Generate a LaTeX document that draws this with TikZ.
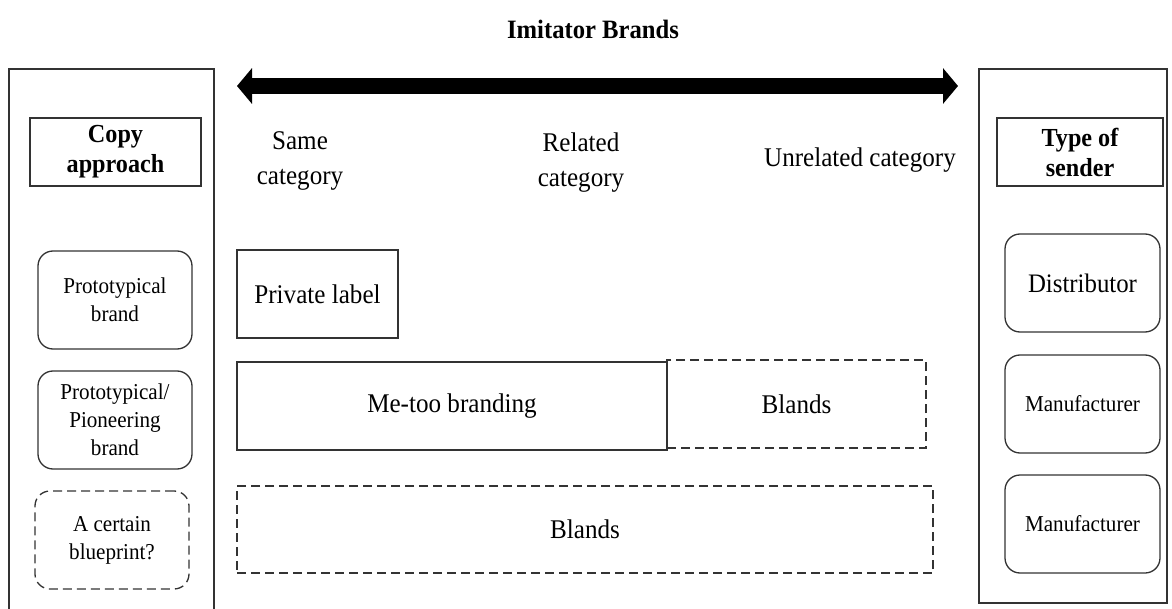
\documentclass[tikz,border=0pt]{standalone}
\usepackage{fontspec}
\setmainfont[FakeStretch=0.93]{Liberation Serif}
\usetikzlibrary{arrows.meta}
\begin{document}
\begin{tikzpicture}[x=1pt,y=-1pt,
  ln/.style={draw=black!80, line width=1.3pt},
  panel/.style={ln, anchor=north west, inner sep=0pt, outer sep=0pt},
  hdr/.style={ln, anchor=north west, inner sep=0pt, outer sep=0pt, align=center,
    font=\fontsize{26}{30}\selectfont\bfseries},
  rbox/.style={ln, rounded corners=15pt, anchor=north west, inner sep=0pt, outer sep=0pt,
    align=center, minimum width=154pt, minimum height=98pt, font=\fontsize{22.7}{28}\selectfont},
  sbox/.style={ln, anchor=north west, inner sep=0pt, outer sep=0pt, align=center,
    minimum height=88pt, font=\fontsize{27}{30}\selectfont},
  dsh/.style={dash pattern=on 9pt off 5pt},
  cat/.style={align=center, inner sep=0pt, font=\fontsize{27}{35}\selectfont},
  ttl/.style={inner sep=0pt, font=\fontsize{26.5}{30}\selectfont\bfseries},
  bigarrow/.style={line width=16pt, draw=black,
    {Triangle[width=35pt,length=15pt]}-{Triangle[width=35pt,length=15pt]}}
]
\useasboundingbox (0,0) rectangle (1172,609);

% title
\node[ttl] (title) at (593,29) {Imitator Brands};

% arrow
\coordinate (aL) at (237,86);
\coordinate (aR) at (958,86);
\draw[bigarrow] (aL) -- (aR);

% category labels
\node[cat] (same) at (300,161) {Same\\category};
\node[cat] (rel) at (581,163) {Related\\category};
\node[cat] (unrel) at (860,160) {Unrelated category};

% left panel
\node[panel, minimum width=205pt, minimum height=560pt] (lpanel) at (9,69) {};
\node[hdr, minimum width=171pt, minimum height=68pt] (copy) at (30,118) {Copy\\approach};
\node[rbox] (proto) at (38,251) {Prototypical\\brand};
\node[rbox] (pion) at (38,371) {Prototypical/\\Pioneering\\brand};
\node[rbox, dsh] (blue) at (35,491) {A certain\\blueprint?};

% right panel
\node[panel, minimum width=188pt, minimum height=534pt] (rpanel) at (979,69) {};
\node[hdr, minimum width=166pt, minimum height=68pt] (sender) at (997,118) {Type of\\sender};
\node[rbox, minimum width=155pt, font=\fontsize{26.7}{30}\selectfont] (dist) at (1005,234) {Distributor};
\node[rbox, minimum width=155pt] (man1) at (1005,355) {Manufacturer};
\node[rbox, minimum width=155pt] (man2) at (1005,475) {Manufacturer};

% middle boxes
\node[sbox, minimum width=161pt] (priv) at (237,250) {Private label};
\node[sbox, minimum width=430pt] (metoo) at (237,362) {Me-too branding};
\node[sbox, dsh, minimum width=259pt] (bl1) at (667,360) {Blands};
\node[sbox, dsh, minimum width=696pt, minimum height=87pt] (bl2) at (237,486) {Blands};
\end{tikzpicture}
\end{document}
